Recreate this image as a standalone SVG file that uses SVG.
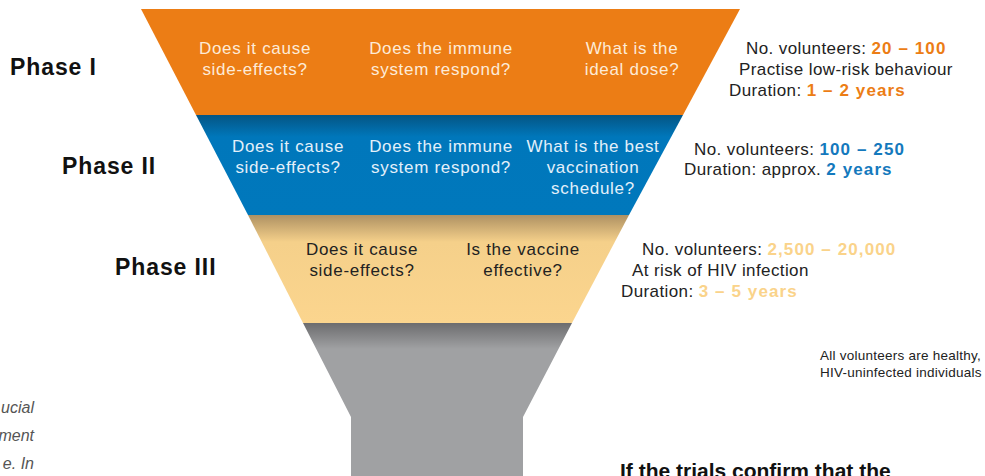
<svg xmlns="http://www.w3.org/2000/svg" width="985" height="476" viewBox="0 0 985 476">
  <defs>
    <linearGradient id="gBlue" x1="0" y1="115" x2="0" y2="215" gradientUnits="userSpaceOnUse">
      <stop offset="0" stop-color="#045584"/>
      <stop offset="0.22" stop-color="#0077BB"/>
      <stop offset="1" stop-color="#0078BC"/>
    </linearGradient>
    <linearGradient id="gTan" x1="0" y1="215" x2="0" y2="323" gradientUnits="userSpaceOnUse">
      <stop offset="0" stop-color="#AE9163"/>
      <stop offset="0.25" stop-color="#F5D08A"/>
      <stop offset="1" stop-color="#FBD58E"/>
    </linearGradient>
    <linearGradient id="gGray" x1="0" y1="323" x2="0" y2="476" gradientUnits="userSpaceOnUse">
      <stop offset="0" stop-color="#6C6C6E"/>
      <stop offset="0.17" stop-color="#A0A1A3"/>
      <stop offset="1" stop-color="#A0A1A3"/>
    </linearGradient>
    <style>
      .phase { font-family: "Liberation Sans", Arial, sans-serif; font-weight: bold; font-size: 23px; letter-spacing: 0.9px; fill: #111; }
      .q { font-family: "Liberation Sans", Arial, sans-serif; font-size: 17px; letter-spacing: 0.7px; text-anchor: middle; }
      .qo { fill: #FDEBD8; }
      .qb { fill: #E3F0FA; }
      .qt { fill: #222; }
      .info { font-family: "Liberation Sans", Arial, sans-serif; font-size: 17px; letter-spacing: 0.4px; fill: #222; }
      .num { font-weight: bold; letter-spacing: 1.1px; }
      .o { fill: #EC7D15; }
      .b { fill: #1479BD; }
      .t { fill: #FAD38A; }
      .note { font-family: "Liberation Sans Narrow", "Liberation Sans", Arial, sans-serif; font-size: 13.5px; letter-spacing: 0.25px; fill: #222; }
      .side { font-family: "Liberation Sans", Arial, sans-serif; font-style: italic; font-size: 16px; fill: #555; text-anchor: end; }
      .head { font-family: "Liberation Sans Narrow", "Liberation Sans", Arial, sans-serif; font-weight: bold; font-size: 21px; fill: #111; }
    </style>
  </defs>

  <rect width="985" height="476" fill="#ffffff"/>

  <!-- funnel bands -->
  <g id="phase1">
    <polygon points="141,9 740,9 683,115 196,115" fill="#EC7D15"/>
    <text class="phase" x="10" y="75">Phase I</text>
    <text class="q qo" x="255" y="54">Does it cause</text>
    <text class="q qo" x="255" y="75">side-effects?</text>
    <text class="q qo" x="441" y="54">Does the immune</text>
    <text class="q qo" x="441" y="75">system respond?</text>
    <text class="q qo" x="632" y="54">What is the</text>
    <text class="q qo" x="632" y="75">ideal dose?</text>
    <text class="info" x="746" y="54">No. volunteers: <tspan class="num o">20 – 100</tspan></text>
    <text class="info" x="739" y="75">Practise low-risk behaviour</text>
    <text class="info" x="729" y="96">Duration: <tspan class="num o">1 – 2 years</tspan></text>
  </g>

  <g id="phase2">
    <polygon points="196,115 683,115 629,215 248,215" fill="url(#gBlue)"/>
    <text class="phase" x="62" y="174">Phase II</text>
    <text class="q qb" x="288" y="152">Does it cause</text>
    <text class="q qb" x="288" y="173">side-effects?</text>
    <text class="q qb" x="441" y="152">Does the immune</text>
    <text class="q qb" x="441" y="173">system respond?</text>
    <text class="q qb" x="593" y="152">What is the best</text>
    <text class="q qb" x="593" y="173">vaccination</text>
    <text class="q qb" x="593" y="194">schedule?</text>
    <text class="info" x="694" y="155">No. volunteers: <tspan class="num b">100 – 250</tspan></text>
    <text class="info" x="684" y="175">Duration: approx. <tspan class="num b">2 years</tspan></text>
  </g>

  <g id="phase3">
    <polygon points="248,215 629,215 572,323 303,323" fill="url(#gTan)"/>
    <text class="phase" x="115" y="275">Phase III</text>
    <text class="q qt" x="362" y="255">Does it cause</text>
    <text class="q qt" x="362" y="276">side-effects?</text>
    <text class="q qt" x="523" y="255">Is the vaccine</text>
    <text class="q qt" x="523" y="276">effective?</text>
    <text class="info" x="642" y="255">No. volunteers: <tspan class="num t">2,500 – 20,000</tspan></text>
    <text class="info" x="632" y="276">At risk of HIV infection</text>
    <text class="info" x="621" y="297">Duration: <tspan class="num t">3 – 5 years</tspan></text>
  </g>

  <g id="stem">
    <polygon points="303,323 572,323 523,417 523,476 351,476 351,417" fill="url(#gGray)"/>
  </g>

  <g id="note">
    <text class="note" x="820" y="360">All volunteers are healthy,</text>
    <text class="note" x="820" y="377">HIV-uninfected individuals</text>
  </g>

  <g id="sidetext">
    <text class="side" x="34" y="413">ucial</text>
    <text class="side" x="34" y="441">ment</text>
    <text class="side" x="34" y="469">e. In</text>
  </g>

  <g id="heading">
    <text class="head" x="620" y="478">If the trials confirm that the</text>
  </g>

  <g id="connectors"/>
</svg>
